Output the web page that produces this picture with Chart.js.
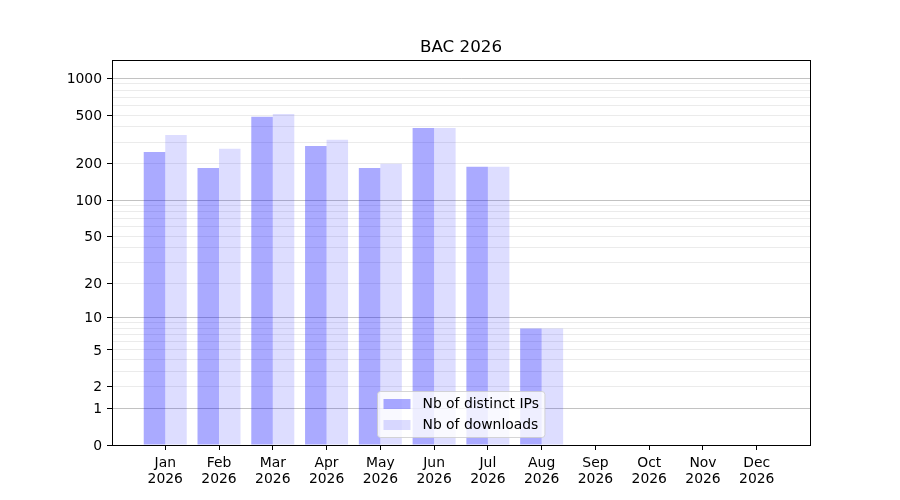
<!DOCTYPE html>
<html>
<head>
<meta charset="utf-8">
<script src="https://cdn.jsdelivr.net/npm/chart.js@4.4.1/dist/chart.umd.min.js"></script>
<style>
  html, body { margin: 0; padding: 0; background: #fff; }
  #wrap { width: 900px; height: 500px; position: relative; }
</style>
</head>
<body>
<div id="wrap"><canvas id="c" width="900" height="500"></canvas></div>
<script>
// ---- data ----
const titleText = "BAC 2026";
const months = ["Jan", "Feb", "Mar", "Apr", "May", "Jun", "Jul", "Aug", "Sep", "Oct", "Nov", "Dec"];
const yearLabel = "2026";
const distinctIPs = [249, 184, 483, 279, 184, 392, 188, 8, 0, 0, 0, 0];
const downloads = [343, 264, 511, 313, 199, 392, 188, 8, 0, 0, 0, 0];
const seriesNames = ["Nb of distinct IPs", "Nb of downloads"];
const yTickLabels = [0, 1, 2, 5, 10, 20, 50, 100, 200, 500, 1000];
const yMajorGrid = [1, 10, 100, 1000];
const yMinorTicks = [3, 4, 6, 7, 8, 9, 30, 40, 60, 70, 80, 90, 300, 400, 600, 700, 800, 900];
const yTopValue = 1412;

// ---- scale transform (log10(1 + v)) ----
const fwd = v => Math.log10(1 + v);
const inv = t => Math.round(Math.pow(10, t) - 1);

const FONT = "'DejaVu Sans', sans-serif";
const toPoints = arr => arr.map((v, i) => ({ x: i, y: fwd(v), raw: v }));

const axesTitle = {
  id: 'axesTitle',
  afterDraw(chart) {
    const { ctx, chartArea: a } = chart;
    ctx.save();
    ctx.font = "16.7px " + FONT;
    ctx.fillStyle = '#000';
    ctx.textAlign = 'center';
    ctx.textBaseline = 'alphabetic';
    ctx.fillText(titleText, (a.left + a.right) / 2, a.top - 8);
    ctx.restore();
  }
};

const frame = {
  id: 'frame',
  afterDatasetsDraw(chart) {
    const { ctx, chartArea: a } = chart;
    ctx.save();
    ctx.strokeStyle = '#000';
    ctx.lineWidth = 1;
    ctx.strokeRect(Math.round(a.left) + 0.5, Math.round(a.top) + 0.5,
                   Math.round(a.right - a.left), Math.round(a.bottom - a.top));
    ctx.restore();
  }
};

const innerLegend = {
  id: 'innerLegend',
  afterDraw(chart) {
    const { ctx, chartArea: a } = chart;
    const ds = chart.data.datasets;
    ctx.save();
    ctx.font = "13.9px " + FONT;
    let tw = 0;
    ds.forEach(d => { tw = Math.max(tw, ctx.measureText(d.label).width); });
    const padX = 6, patchW = 27, gap = 12, rowH = 21;
    const w = padX + patchW + gap + tw + padX;
    const h = ds.length * rowH + 4;
    const cx = (a.left + a.right) / 2;
    const x = Math.round(cx - w / 2) + 0.5;
    const y = Math.round(a.bottom - 8 - h) + 0.5;
    const r = 3;
    ctx.beginPath();
    ctx.moveTo(x + r, y);
    ctx.lineTo(x + w - r, y);
    ctx.quadraticCurveTo(x + w, y, x + w, y + r);
    ctx.lineTo(x + w, y + h - r);
    ctx.quadraticCurveTo(x + w, y + h, x + w - r, y + h);
    ctx.lineTo(x + r, y + h);
    ctx.quadraticCurveTo(x, y + h, x, y + h - r);
    ctx.lineTo(x, y + r);
    ctx.quadraticCurveTo(x, y, x + r, y);
    ctx.closePath();
    ctx.fillStyle = 'rgba(255,255,255,0.8)';
    ctx.fill();
    ctx.strokeStyle = 'rgba(204,204,204,0.8)';
    ctx.lineWidth = 1;
    ctx.stroke();
    ds.forEach((d, i) => {
      const cy = y + 2 + rowH * i + rowH / 2;
      ctx.fillStyle = d.backgroundColor;
      ctx.fillRect(x + padX, cy - 5, patchW, 10);
      ctx.fillStyle = '#000';
      ctx.textBaseline = 'middle';
      ctx.textAlign = 'left';
      ctx.fillText(d.label, x + padX + patchW + gap, cy);
    });
    ctx.restore();
  }
};

new Chart(document.getElementById('c'), {
  type: 'bar',
  data: {
    datasets: [
      { label: seriesNames[0], data: toPoints(distinctIPs), backgroundColor: 'rgba(0,0,255,0.333)', borderWidth: 0 },
      { label: seriesNames[1], data: toPoints(downloads), backgroundColor: 'rgba(0,0,255,0.133)', borderWidth: 0 }
    ]
  },
  options: {
    responsive: false,
    animation: false,
    devicePixelRatio: 1,
    layout: { padding: { left: 0, right: 90, top: 60, bottom: 0 } },
    datasets: { bar: { categoryPercentage: 0.8, barPercentage: 1.0 } },
    plugins: {
      legend: { display: false },
      tooltip: { enabled: false },
      title: { display: false }
    },
    scales: {
      x: {
        type: 'linear',
        offset: false,
        min: -0.99,
        max: 11.99,
        afterBuildTicks(scale) { scale.ticks = months.map((m, i) => ({ value: i })); },
        afterFit(scale) { scale.height = 55; },
        ticks: {
          autoSkip: false,
          maxRotation: 0,
          color: '#000',
          padding: 5,
          font: { family: FONT, size: 13.9, lineHeight: 1.15 },
          callback: (v) => [months[v], yearLabel]
        },
        grid: { offset: false, drawOnChartArea: false, drawTicks: true, tickLength: 5, tickColor: '#000' },
        border: { display: true, color: '#000' }
      },
      y: {
        type: 'linear',
        min: 0,
        max: fwd(yTopValue),
        afterBuildTicks(scale) {
          const vals = yTickLabels.concat(yMinorTicks).sort((a, b) => a - b);
          scale.ticks = vals.map(v => ({ value: fwd(v), raw: v }));
        },
        afterFit(scale) { scale.width = 112; },
        ticks: {
          autoSkip: false,
          color: '#000',
          padding: 5,
          labelOffset: 1,
          font: { family: FONT, size: 13.9 },
          callback: function (val) {
            const v = inv(val);
            return yTickLabels.includes(v) ? String(v) : '';
          }
        },
        grid: {
          drawTicks: true,
          tickLength: 5,
          lineWidth: 1,
          color: (c) => {
            const v = inv(c.tick.value);
            if (v === 0) return 'rgba(0,0,0,0)';
            return yMajorGrid.includes(v) ? 'rgba(0,0,0,0.24)' : 'rgba(0,0,0,0.08)';
          },
          tickColor: (c) => {
            const v = inv(c.tick.value);
            return yTickLabels.includes(v) ? '#000' : 'rgba(0,0,0,0)';
          }
        },
        border: { display: true, color: '#000' }
      }
    }
  },
  plugins: [axesTitle, frame, innerLegend]
});
</script>
</body>
</html>
